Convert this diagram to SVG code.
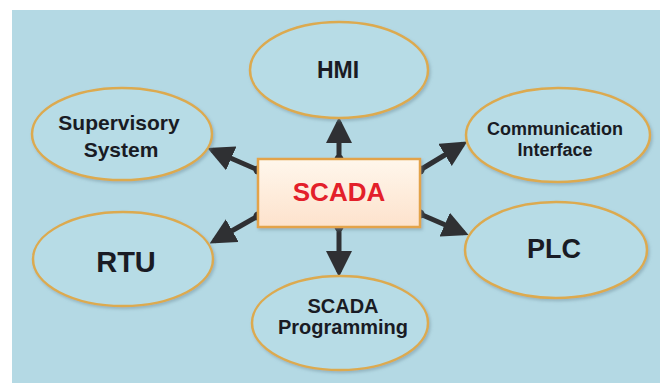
<svg xmlns="http://www.w3.org/2000/svg" width="670" height="383" viewBox="0 0 670 383">
<defs>
<style>
.ell{fill:#b7dce6;stroke:#dcaa50;stroke-width:2.5;filter:url(#sh)}
.lbl{font-family:"Liberation Sans",Arial,sans-serif;font-weight:bold;fill:#191b24;text-anchor:middle}
.con{stroke:#2f3033;stroke-width:5;fill:none;marker-end:url(#ah)}
.dot{fill:#2f3033}
</style>
<linearGradient id="rg" x1="0" y1="0" x2="0" y2="1">
<stop offset="0" stop-color="#fff7ec"/>
<stop offset="1" stop-color="#fde2cc"/>
</linearGradient>
<filter id="sh" x="-20%" y="-20%" width="140%" height="140%">
<feDropShadow dx="1.5" dy="2" stdDeviation="1.5" flood-color="#6a8a96" flood-opacity="0.45"/>
</filter>
<marker id="ah" markerUnits="userSpaceOnUse" viewBox="0 0 26 26" markerWidth="26" markerHeight="26" refX="21" refY="13" orient="auto">
<path d="M0,0 L26,13 L0,26 z" fill="#2f3033"/>
</marker>
</defs>
<rect x="0" y="0" width="670" height="383" fill="#ffffff"/>
<rect x="12" y="10" width="648" height="373" fill="#b4d9e4"/>

<g id="connectors">
<line class="con" x1="339" y1="159" x2="339" y2="122"/>
<circle class="dot" cx="339" cy="159" r="4.5"/>
<line class="con" x1="339" y1="227" x2="339" y2="272"/>
<circle class="dot" cx="339" cy="227" r="4.5"/>
<line class="con" x1="258" y1="170" x2="212" y2="150"/>
<circle class="dot" cx="258" cy="170" r="4.5"/>
<line class="con" x1="258" y1="216" x2="214" y2="241"/>
<circle class="dot" cx="258" cy="216" r="4.5"/>
<line class="con" x1="420" y1="170" x2="463" y2="144"/>
<circle class="dot" cx="420" cy="170" r="4.5"/>
<line class="con" x1="420" y1="214" x2="464" y2="233"/>
<circle class="dot" cx="420" cy="214" r="4.5"/>
</g>

<g id="scada">
<rect x="258" y="159" width="162" height="68" fill="url(#rg)" stroke="#e3a34a" stroke-width="2.5" filter="url(#sh)"/>
<text x="339" y="201" font-family="Liberation Sans,Arial,sans-serif" font-weight="bold" font-size="26" fill="#e3202a" text-anchor="middle">SCADA</text>
</g>

<g id="hmi">
<ellipse class="ell" cx="339" cy="70" rx="89" ry="48"/>
<text class="lbl" x="338" y="78" font-size="23">HMI</text>
</g>

<g id="supervisory">
<ellipse class="ell" cx="122" cy="134" rx="90" ry="46"/>
<text class="lbl" x="119" y="130" font-size="21">Supervisory</text>
<text class="lbl" x="121" y="157" font-size="21">System</text>
</g>

<g id="communication">
<ellipse class="ell" cx="558" cy="135" rx="92" ry="47"/>
<text class="lbl" x="555" y="135" font-size="18">Communication</text>
<text class="lbl" x="555" y="156" font-size="18">Interface</text>
</g>

<g id="plc">
<ellipse class="ell" cx="556" cy="250" rx="91" ry="48"/>
<text class="lbl" x="554" y="258" font-size="27">PLC</text>
</g>

<g id="rtu">
<ellipse class="ell" cx="123" cy="259" rx="90" ry="47"/>
<text class="lbl" x="126" y="272" font-size="29">RTU</text>
</g>

<g id="programming">
<ellipse class="ell" cx="340" cy="323" rx="88" ry="47"/>
<text class="lbl" x="343" y="313" font-size="20">SCADA</text>
<text class="lbl" x="343" y="334" font-size="20">Programming</text>
</g>
</svg>
